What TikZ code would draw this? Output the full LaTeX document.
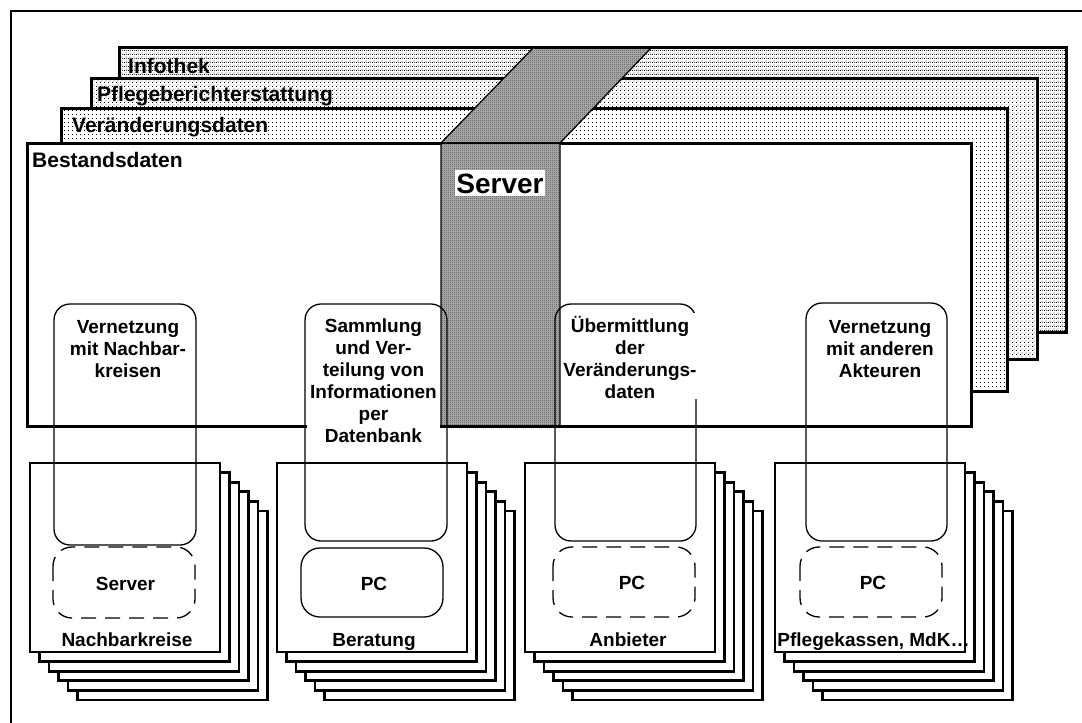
\documentclass[tikz,border=0pt]{standalone}
\usepackage{fontspec}
\setmainfont{Liberation Sans}
\usetikzlibrary{patterns}
\pgfdeclarepatternformonly{dotsA}{\pgfpointorigin}{\pgfpoint{4pt}{4pt}}{\pgfpoint{4pt}{4pt}}{%
  \pgfpathrectangle{\pgfpointorigin}{\pgfpoint{1pt}{1pt}}\pgfusepath{fill}}
\pgfdeclarepatternformonly{dotsB}{\pgfpointorigin}{\pgfpoint{4pt}{4pt}}{\pgfpoint{4pt}{4pt}}{%
  \pgfpathrectangle{\pgfpointorigin}{\pgfpoint{1pt}{1pt}}%
  \pgfpathrectangle{\pgfpoint{2pt}{2pt}}{\pgfpoint{1pt}{1pt}}\pgfusepath{fill}}
\pgfdeclarepatternformonly{dotsC}{\pgfpointorigin}{\pgfpoint{4pt}{4pt}}{\pgfpoint{4pt}{4pt}}{%
  \pgfpathrectangle{\pgfpointorigin}{\pgfpoint{1pt}{1pt}}%
  \pgfpathrectangle{\pgfpoint{2pt}{2pt}}{\pgfpoint{1pt}{1pt}}%
  \pgfpathrectangle{\pgfpoint{3pt}{0pt}}{\pgfpoint{1pt}{1pt}}\pgfusepath{fill}}
\pgfdeclarepatternformonly{dotsD}{\pgfpointorigin}{\pgfpoint{2pt}{2pt}}{\pgfpoint{2pt}{2pt}}{%
  \pgfpathrectangle{\pgfpointorigin}{\pgfpoint{1pt}{1pt}}%
  \pgfpathrectangle{\pgfpoint{1pt}{1pt}}{\pgfpoint{1pt}{1pt}}\pgfusepath{fill}}
\tikzset{
  thickline/.style={line width=3pt},
  thinline/.style={line width=1.3pt},
  layer/.style={line width=3pt, draw=black, preaction={fill=white}},
  page/.style={line width=2.8pt, draw=black, fill=white},
  tallbox/.style={line width=1.3pt, draw=black, rounded corners=16pt},
  smallbox/.style={line width=1.3pt, draw=black, rounded corners=19pt},
  dashbox/.style={smallbox, dash pattern=on 15pt off 9pt},
  layerlbl/.style={font=\fontsize{21}{25}\selectfont\bfseries, anchor=base west, inner sep=0pt},
  boxtxt/.style={font=\fontsize{19}{22}\selectfont\bfseries, align=center, anchor=north, fill=white, inner sep=1pt},
  smalltxt/.style={font=\fontsize{19}{22}\selectfont\bfseries, anchor=base, inner sep=0pt},
}
\begin{document}
\begin{tikzpicture}[x=1pt,y=-1pt]
\useasboundingbox (0,0) rectangle (1082,723);
% outer frame
\draw[line width=2pt] (11,723) -- (11,11) -- (1082,11);
% layers
\path[layer, pattern=dotsC, pattern color=black] (119,47) rectangle (1066,332);
\node[layerlbl] (infothek) at (128,73) {Infothek};
\path[layer, pattern=dotsB, pattern color=black] (91,78) rectangle (1037,359);
\node[layerlbl] (pflege) at (97,101.5) {Pflegeberichterstattung};
\path[layer, pattern=dotsA, pattern color=black] (61,108) rectangle (1007,391);
\node[layerlbl] (veraend) at (72,132) {Veränderungsdaten};
\path[layer] (27,143) rectangle (971,426);
\node[layerlbl] (bestand) at (32,167) {Bestandsdaten};
% server band
\draw[thinline, preaction={fill=black!30}, pattern=dotsD, pattern color=black!70]
  (441,426) -- (441,143) -- (534,47) -- (652,47) -- (560,143) -- (560,426) -- cycle;
\draw[thinline] (441,143) -- (560,143);
\draw[thickline] (534,47) -- (652,47);
\draw[thickline] (441,426) -- (560,426);
\node[font=\fontsize{28}{30}\selectfont\bfseries, fill=white, inner xsep=1pt, inner ysep=3pt, anchor=base] (serverlbl) at (500,193) {Server};
% stacks of pages
\foreach \L in {30,277,525,775} {
  \foreach \k in {5,4,...,0} {
    \draw[page] ({\L+9.5*\k},{463+9.6*\k}) rectangle ++(190,189);
  }
}
% tall boxes
\draw[tallbox] (54,304) rectangle (196,545);
\draw[tallbox] (305,304) rectangle (447,541);
\draw[tallbox] (555,304) rectangle (696,541);
\draw[tallbox] (806,303) rectangle (947,541);
% small boxes
\draw[dashbox] (53,547) rectangle (195,618);
\draw[smallbox] (301,548) rectangle (443,617);
\draw[dashbox] (553,547) rectangle (695,617);
\draw[dashbox] (800,547) rectangle (942,617);
% texts in tall boxes
\node[boxtxt] (t1) at (128,314) {\rule{0pt}{18pt}Vernetzung\\mit Nachbar-\\kreisen};
\node[boxtxt, minimum width=133pt] (t2) at (373.5,313) {\rule{0pt}{18pt}Sammlung\\und Ver-\\teilung von\\Informationen\\per\\Datenbank};
\node[boxtxt] (t3) at (630,313) {\rule{0pt}{18pt}Übermittlung\\der\\Veränderungs-\\daten};
\node[boxtxt] (t4) at (880,314) {\rule{0pt}{18pt}Vernetzung\\mit anderen\\Akteuren};
% small box texts
\node[smalltxt] (s1) at (125.5,590) {Server};
\node[smalltxt] (p2) at (374,590) {PC};
\node[smalltxt] (p3) at (632,589) {PC};
\node[smalltxt] (p4) at (873,589) {PC};
% page labels
\node[smalltxt] (n1) at (127,646) {Nachbarkreise};
\node[smalltxt] (b2) at (374,646) {Beratung};
\node[smalltxt] (a3) at (628,646) {Anbieter};
\node[smalltxt] (k4) at (873.5,646) {Pflegekassen, MdK…};
\end{tikzpicture}
\end{document}
